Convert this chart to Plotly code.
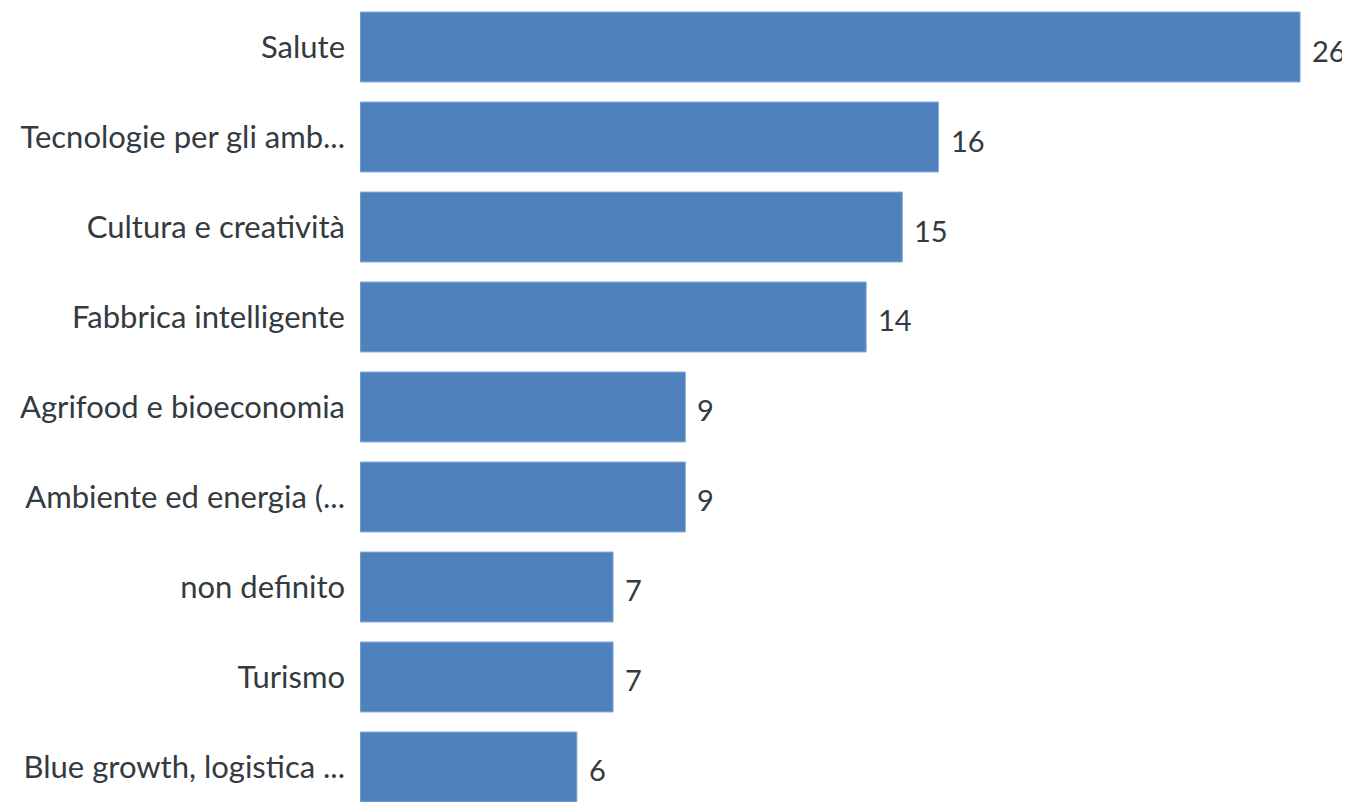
import plotly.graph_objects as go

categories = [
    "Salute",
    "Tecnologie per gli amb...",
    "Cultura e creatività",
    "Fabbrica intelligente",
    "Agrifood e bioeconomia",
    "Ambiente ed energia (...",
    "non definito",
    "Turismo",
    "Blue growth, logistica ...",
]
values = [26, 16, 15, 14, 9, 9, 7, 7, 6]

BAR_COLOR = "#4F81BD"
TEXT_COLOR = "#333a40"
FONT = "Lato"
FSIZE = 31
NUM_SIZE = 29

fig = go.Figure(
    go.Bar(
        x=values,
        y=categories,
        orientation="h",
        width=0.778,
        marker=dict(color=BAR_COLOR, line=dict(color="#8fb0da", width=1)),
        hoverinfo="x+y",
    )
)

annotations = [
    dict(
        x=v, y=c, xref="x", yref="y", text=str(v), showarrow=False,
        xanchor="left", xshift=10, yshift=-3,
        font=dict(family=FONT, size=NUM_SIZE, color=TEXT_COLOR),
    )
    for c, v in zip(categories, values)
]

fig.update_layout(
    width=1342,
    height=794,
    margin=dict(l=352, r=0, t=0, b=0, autoexpand=False),
    paper_bgcolor="white",
    plot_bgcolor="white",
    showlegend=False,
    annotations=annotations,
    font=dict(family=FONT, size=FSIZE, color=TEXT_COLOR),
    xaxis=dict(
        range=[0, 27.38], showgrid=False, zeroline=False,
        showticklabels=False, showline=False, ticks="",
    ),
    yaxis=dict(
        type="category",
        range=[8.389, -0.4333],
        showgrid=False, zeroline=False, showline=False,
        ticks="", ticklabelstandoff=14,
        tickfont=dict(family=FONT, size=FSIZE, color=TEXT_COLOR),
    ),
)

fig.write_html("out.html")
